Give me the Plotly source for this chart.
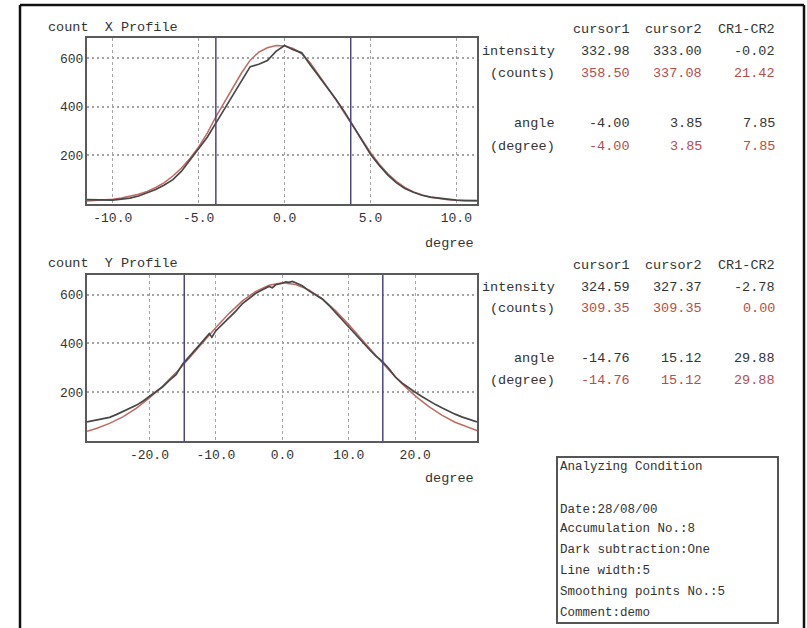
import plotly.graph_objects as go

# ---------------- data ----------------
# X profile (degree, count)
x_prof_deg = [-11.5, -11.0, -10.5, -10.0, -9.5, -9.0, -8.5, -8.0, -7.5, -7.0, -6.5, -6.0, -5.5, -5.0,
              -4.5, -4.0, -3.5, -3.0, -2.5, -2.0, -1.5, -1.0, -0.5, 0.0, 0.5, 1.0, 1.5, 2.0, 2.5, 3.0,
              3.5, 4.0, 4.5, 5.0, 5.5, 6.0, 6.5, 7.0, 7.5, 8.0, 8.5, 9.0, 9.5, 10.0, 10.5, 11.0, 11.2]
x_prof_meas = [18, 17, 15, 16, 20, 24, 33, 45, 60, 78, 100, 135, 180, 228,
               275, 333, 392, 452, 510, 565, 575, 590, 628, 652, 635, 622, 572, 525, 478, 430,
               378, 322, 262, 205, 160, 120, 88, 64, 48, 36, 28, 24, 18, 16, 14, 15, 14]
x_prof_fit = [12, 14, 17, 20, 25, 31, 40, 52, 68, 88, 115, 148, 188, 235,
              292, 358, 420, 480, 540, 592, 625, 643, 652, 650, 640, 618, 580, 530, 480, 428,
              372, 318, 265, 212, 165, 125, 93, 68, 50, 37, 28, 22, 18, 15, 14, 13, 13]

# Y profile (degree, count)
y_meas_deg = [-29.4, -29, -28, -27, -26, -25, -24, -23, -22, -21, -20, -19, -18, -17, -16, -15, -14,
              -13, -12, -11, -10.6, -10, -9, -8, -7, -6, -5, -4, -3, -2, -1.5, -1, 0, 0.5, 1, 1.5,
              2, 3, 4, 5, 6, 7, 8, 9, 10, 11, 12, 13, 14, 15, 16, 17, 18, 19, 20, 21, 22, 23, 24,
              25, 26, 27, 28, 29, 29.3]
y_meas = [78, 80, 84, 90, 97, 108, 120, 133, 146, 163, 183, 200, 222, 248, 272, 315, 345,
          376, 408, 440, 425, 452, 478, 505, 532, 563, 585, 605, 620, 633, 628, 640, 646, 652, 650, 654,
          648, 636, 615, 600, 582, 556, 526, 496, 464, 436, 405, 378, 350, 327, 298, 262, 238, 218, 200,
          182, 165, 150, 136, 122, 110, 99, 90, 82, 78]
y_fit_deg = [-29.4, -28, -26, -24, -22, -20, -18, -16, -14, -12, -10, -8, -6, -4, -2, 0,
             2, 4, 6, 8, 10, 12, 14, 16, 18, 20, 22, 24, 26, 28, 29.3]
y_fit = [40, 51, 72, 99, 134, 176, 225, 280, 340, 403, 465, 523, 574, 613, 638, 648,
         641, 619, 583, 534, 477, 415, 352, 292, 235, 185, 142, 106, 77, 55, 43]

# cursors
x_cursors = [-4.00, 3.85]
y_cursors = [-14.76, 15.12]

# tick labels
x_ticks_top = [-10.0, -5.0, 0.0, 5.0, 10.0]
x_ticks_bot = [-20.0, -10.0, 0.0, 10.0, 20.0]
count_ticks = [200, 400, 600]

# tables
col_headers = ["cursor1", "cursor2", "CR1-CR2"]
row_labels = ["intensity", "(counts)", "angle", "(degree)"]
x_table = [["332.98", "333.00", "-0.02"],
           ["358.50", "337.08", "21.42"],
           ["-4.00", "3.85", "7.85"],
           ["-4.00", "3.85", "7.85"]]
y_table = [["324.59", "327.37", "-2.78"],
           ["309.35", "309.35", "0.00"],
           ["-14.76", "15.12", "29.88"],
           ["-14.76", "15.12", "29.88"]]
condition_lines = ["Analyzing Condition", "", "Date:28/08/00", "Accumulation No.:8",
                   "Dark subtraction:One", "Line width:5", "Smoothing points No.:5", "Comment:demo"]

# ---------------- figure ----------------
W, H = 807, 628
FONT = "Courier New, Liberation Mono, monospace"
DARK = "#474747"
RED = "#c06a62"
CUR = "#4b4488"
TXT = "#333333"
TRED = "#b84c48"


def px(x):
    return x / W


def py(y):
    return 1 - y / H


fig = go.Figure()
fig.add_trace(go.Scatter(x=x_prof_deg, y=x_prof_fit, mode="lines",
                         line=dict(color=RED, width=1.5), xaxis="x", yaxis="y"))
fig.add_trace(go.Scatter(x=x_prof_deg, y=x_prof_meas, mode="lines",
                         line=dict(color=DARK, width=1.7), xaxis="x", yaxis="y"))
fig.add_trace(go.Scatter(x=y_fit_deg, y=y_fit, mode="lines",
                         line=dict(color=RED, width=1.5), xaxis="x2", yaxis="y2"))
fig.add_trace(go.Scatter(x=y_meas_deg, y=y_meas, mode="lines",
                         line=dict(color=DARK, width=1.7), xaxis="x2", yaxis="y2"))

axis_common = dict(showline=True, mirror=True, linecolor="#5a5a5a", linewidth=2,
                   showgrid=True, gridcolor="#a4a4a4", zeroline=False,
                   ticks="", tickfont=dict(family=FONT, size=13, color=TXT))

fig.update_layout(
    width=W, height=H, autosize=False,
    margin=dict(l=0, r=0, t=0, b=0),
    paper_bgcolor="white", plot_bgcolor="white",
    showlegend=False,
    font=dict(family=FONT, color=TXT),
    xaxis=dict(domain=[px(87), px(477)], range=[-11.5, 11.2], tickvals=x_ticks_top,
               ticktext=[f"{v:.1f}" for v in x_ticks_top], griddash="3px,3px", gridwidth=1.2,
               anchor="y", **axis_common),
    yaxis=dict(domain=[py(204), py(38)], range=[0, 683], tickvals=count_ticks,
               griddash="2px,3px", gridwidth=2, anchor="x", ticklabelstandoff=-1, **axis_common),
    xaxis2=dict(domain=[px(87), px(477)], range=[-29.4, 29.3], tickvals=x_ticks_bot,
                ticktext=[f"{v:.1f}" for v in x_ticks_bot], griddash="3px,3px", gridwidth=1.2,
                anchor="y2", **axis_common),
    yaxis2=dict(domain=[py(441), py(275)], range=[0, 680], tickvals=count_ticks,
                griddash="2px,3px", gridwidth=2, anchor="x2", ticklabelstandoff=-1, **axis_common),
)

shapes = []
# cursor lines
for c in x_cursors:
    shapes.append(dict(type="line", xref="x", yref="y domain", x0=c, x1=c, y0=0, y1=1,
                       line=dict(color=CUR, width=1.5)))
for c in y_cursors:
    shapes.append(dict(type="line", xref="x2", yref="y2 domain", x0=c, x1=c, y0=0, y1=1,
                       line=dict(color=CUR, width=1.5)))
# outer frame
shapes.append(dict(type="line", xref="paper", yref="paper", x0=px(20), x1=px(20), y0=py(5), y1=py(640),
                   line=dict(color="#111", width=2.5)))
shapes.append(dict(type="line", xref="paper", yref="paper", x0=px(20), x1=px(804), y0=py(5), y1=py(5),
                   line=dict(color="#111", width=2.5)))
shapes.append(dict(type="line", xref="paper", yref="paper", x0=px(804), x1=px(804), y0=py(5), y1=py(640),
                   line=dict(color="#111", width=2.5)))
# condition box
shapes.append(dict(type="rect", xref="paper", yref="paper", x0=px(557), x1=px(778), y0=py(623), y1=py(457),
                   line=dict(color="#555", width=2), fillcolor="rgba(0,0,0,0)"))
fig.update_layout(shapes=shapes)

ann = []


def text(x, y, s, anchor="left", color=TXT, size=13):
    ann.append(dict(x=px(x), y=py(y), xref="paper", yref="paper", text=s, showarrow=False,
                    xanchor=anchor, yanchor="middle", font=dict(family=FONT, size=size, color=color)))


text(46, 27, "count  X Profile", size=13.5)
text(46, 263, "count  Y Profile", size=13.5)
text(476, 243, "degree", anchor="right", size=13.5)
text(476, 478, "degree", anchor="right", size=13.5)

col_right = [632, 704, 777]
for (top_rows, ys) in [(x_table, [30, 52, 74, 124, 146]), (y_table, [265, 287, 308, 358, 380])]:
    for h, cx in zip(col_headers, col_right):
        text(cx, ys[0], h, anchor="right", size=13.5)
    for i, lab in enumerate(row_labels):
        text(557, ys[i + 1], lab, anchor="right", size=13.5)
        color = TRED if i % 2 == 1 else TXT
        for v, cx in zip(top_rows[i], col_right):
            text(cx, ys[i + 1], v, anchor="right", color=color, size=13.5)

cond_y = [467, 488, 510, 529, 550, 571, 592, 613]
for s, y in zip(condition_lines, cond_y):
    if s:
        text(558, y, s, size=12.5)

fig.update_layout(annotations=ann)
fig.write_html("out.html", config={"displayModeBar": False})
